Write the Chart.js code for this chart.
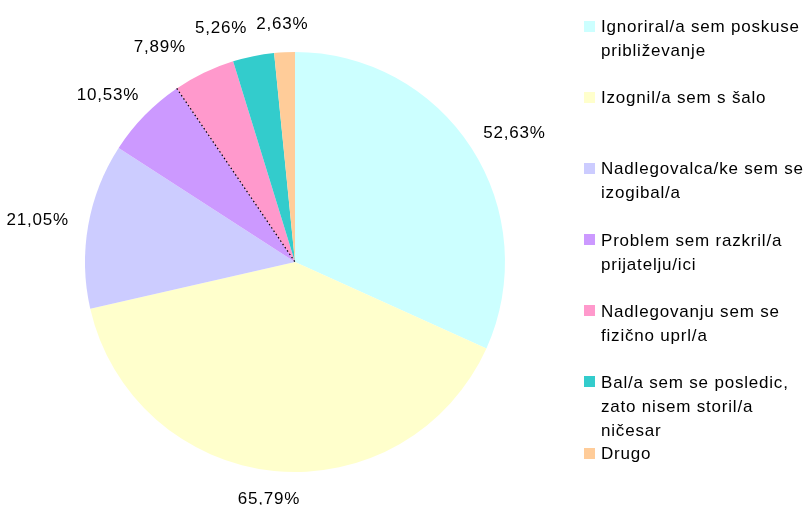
<!DOCTYPE html>
<html>
<head>
<meta charset="utf-8">
<script src="https://cdn.jsdelivr.net/npm/chart.js@4/dist/chart.umd.min.js"></script>
<style>
html,body{margin:0;padding:0;background:#fff;}
#wrap{position:relative;width:807px;height:505px;}
</style>
</head>
<body>
<div id="wrap"><canvas id="c" width="807" height="505"></canvas></div>
<script>
const categories = [
  ["Ignoriral/a sem poskuse", "približevanje"],
  ["Izognil/a sem s šalo"],
  ["Nadlegovalca/ke sem se", "izogibal/a"],
  ["Problem sem razkril/a", "prijatelju/ici"],
  ["Nadlegovanju sem se", "fizično uprl/a"],
  ["Bal/a sem se posledic,", "zato nisem storil/a", "ničesar"],
  ["Drugo"]
];
const values = [52.63, 65.79, 21.05, 10.53, 7.89, 5.26, 2.63];
const valueLabels = ["52,63%", "65,79%", "21,05%", "10,53%", "7,89%", "5,26%", "2,63%"];
const colors = ["#CCFFFF", "#FFFFCC", "#CCCCFF", "#CC99FF", "#FF99CC", "#33CCCC", "#FFCC99"];

const FONT = '17px "Liberation Sans", Arial, sans-serif';
const TEXT_COLOR = '#000';

const outerLabels = {
  id: 'outerLabels',
  afterDatasetsDraw(chart) {
    const ctx = chart.ctx;
    const meta = chart.getDatasetMeta(0);
    ctx.save();
    ctx.font = FONT;
    if ('letterSpacing' in ctx) ctx.letterSpacing = '0.8px';
    ctx.fillStyle = TEXT_COLOR;
    ctx.textAlign = 'center';
    ctx.textBaseline = 'middle';
    const gap = 20, halfH = 10, padX = 9;
    const placed = [];
    for (let i = meta.data.length - 1; i >= 0; i--) {
      const arc = meta.data[i];
      const p = arc.getProps(['x', 'y', 'startAngle', 'endAngle', 'outerRadius'], true);
      const a = (p.startAngle + p.endAngle) / 2;
      const txt = valueLabels[i];
      const w = ctx.measureText(txt).width;
      const c = Math.cos(a), s = Math.sin(a);
      let cx = p.x + (p.outerRadius + gap) * c + (w / 2) * c;
      let cy = p.y + (p.outerRadius + gap) * s + 8 * s;
      // simple overlap avoidance: push label horizontally away
      for (const b of placed) {
        const overlapY = Math.abs(cy - b.y) < 2 * halfH;
        const overlapX = Math.abs(cx - b.x) < (w + b.w) / 2 + padX;
        if (overlapY && overlapX) {
          if (cx <= b.x) cx = b.x - (w + b.w) / 2 - padX;
          else cx = b.x + (w + b.w) / 2 + padX;
        }
      }
      placed.push({x: cx, y: cy, w: w});
      ctx.fillText(txt, cx, cy);
    }
    // dotted selection line between slice 4 and 5
    const arc = meta.data[3];
    const p = arc.getProps(['x', 'y', 'endAngle', 'outerRadius'], true);
    ctx.strokeStyle = '#000';
    ctx.lineWidth = 1.2;
    ctx.setLineDash([1.5, 2.5]);
    ctx.beginPath();
    ctx.moveTo(p.x + p.outerRadius * Math.cos(p.endAngle), p.y + p.outerRadius * Math.sin(p.endAngle));
    ctx.lineTo(p.x, p.y);
    ctx.stroke();
    ctx.restore();
  }
};

const sideLegend = {
  id: 'sideLegend',
  afterDraw(chart) {
    const ctx = chart.ctx;
    ctx.save();
    ctx.font = FONT;
    if ('letterSpacing' in ctx) ctx.letterSpacing = '0.8px';
    ctx.textAlign = 'left';
    ctx.textBaseline = 'alphabetic';
    const x0 = 584, box = 11, tx = 601;
    const first = 26, last = 453, lineH = 24;
    const step = (last - first) / (categories.length - 1);
    categories.forEach((lines, i) => {
      const yc = first + i * step;
      ctx.fillStyle = colors[i];
      ctx.fillRect(x0, Math.round(yc - box / 2), box, box);
      ctx.fillStyle = TEXT_COLOR;
      lines.forEach((ln, j) => {
        ctx.fillText(ln, tx, yc + 6 + j * lineH);
      });
    });
    ctx.restore();
  }
};

new Chart(document.getElementById('c'), {
  type: 'pie',
  data: {
    labels: categories.map(l => l.join(' ')),
    datasets: [{
      data: values,
      backgroundColor: colors,
      borderWidth: 0
    }]
  },
  options: {
    responsive: false,
    animation: false,
    layout: { padding: { left: 85, right: 302, top: 52, bottom: 33 } },
    plugins: {
      legend: { display: false },
      tooltip: { enabled: false },
      title: { display: false }
    }
  },
  plugins: [outerLabels, sideLegend]
});
</script>
</body>
</html>
